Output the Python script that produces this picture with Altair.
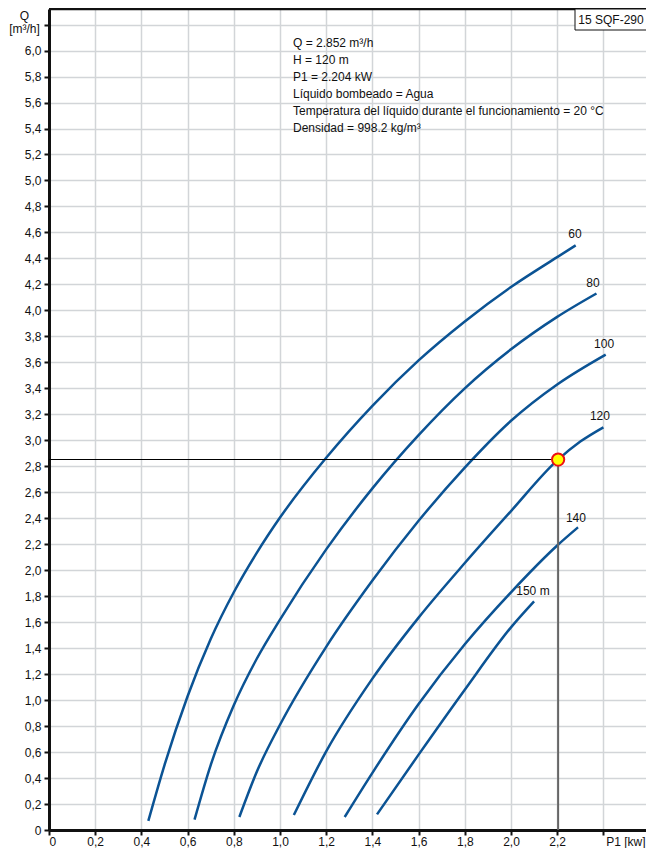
import altair as alt
import pandas as pd

# ---------------- data ----------------
x_ticks = [0.0, 0.2, 0.4, 0.6, 0.8, 1.0, 1.2, 1.4, 1.6, 1.8, 2.0, 2.2, 2.4, 2.6]
y_ticks = [0.0, 0.2, 0.4, 0.6, 0.8, 1.0, 1.2, 1.4, 1.6, 1.8, 2.0, 2.2, 2.4, 2.6,
           2.8, 3.0, 3.2, 3.4, 3.6, 3.8, 4.0, 4.2, 4.4, 4.6, 4.8, 5.0, 5.2, 5.4,
           5.6, 5.8, 6.0, 6.2]

p_60 = [0.43, 0.50, 0.60, 0.70, 0.80, 0.90, 1.00, 1.20, 1.40, 1.60, 1.80, 2.00, 2.20, 2.28]
q_60 = [0.07, 0.50, 1.03, 1.47, 1.83, 2.135, 2.405, 2.865, 3.265, 3.615, 3.915, 4.18, 4.41, 4.50]

p_80 = [0.63, 0.70, 0.80, 0.90, 1.00, 1.20, 1.40, 1.60, 1.80, 2.00, 2.20, 2.37]
q_80 = [0.08, 0.50, 0.96, 1.32, 1.62, 2.16, 2.63, 3.04, 3.40, 3.70, 3.95, 4.13]

p_100 = [0.824, 0.90, 1.00, 1.20, 1.40, 1.60, 1.80, 2.00, 2.20, 2.41]
q_100 = [0.10, 0.45, 0.81, 1.41, 1.92, 2.38, 2.79, 3.15, 3.43, 3.66]

p_120 = [1.06, 1.20, 1.40, 1.60, 1.80, 2.00, 2.20, 2.30, 2.40]
q_120 = [0.115, 0.605, 1.165, 1.635, 2.055, 2.455, 2.845, 2.99, 3.10]

p_140 = [1.28, 1.40, 1.60, 1.80, 2.00, 2.20, 2.29]
q_140 = [0.10, 0.44, 0.97, 1.43, 1.83, 2.19, 2.33]

p_150 = [1.42, 1.60, 1.80, 2.00, 2.10]
q_150 = [0.12, 0.58, 1.08, 1.56, 1.76]

label_text = ["60", "80", "100", "120", "140", "150 m"]
label_p = [2.277, 2.355, 2.403, 2.385, 2.281, 2.095]
label_q = [4.59, 4.21, 3.74, 3.19, 2.40, 1.84]

op_p = [2.204]
op_q = [2.852]

info_lines = [
    "Q = 2.852 m³/h",
    "H = 120 m",
    "P1 = 2.204 kW",
    "Líquido bombeado = Agua",
    "Temperatura del líquido durante el funcionamiento = 20 °C",
    "Densidad = 998.2 kg/m³",
]
model_name = ["15 SQF-290"]

# ---------------- build tables ----------------
curves = [("60", p_60, q_60), ("80", p_80, q_80), ("100", p_100, q_100),
          ("120", p_120, q_120), ("140", p_140, q_140), ("150", p_150, q_150)]
rows = []
for name, ps, qs in curves:
    for i, (p, q) in enumerate(zip(ps, qs)):
        rows.append({"curve": name, "p": p, "q": q, "i": i})
df_curves = pd.DataFrame(rows)
df_labels = pd.DataFrame({"t": label_text, "p": label_p, "q": label_q})
df_op = pd.DataFrame({"p": op_p, "q": op_q, "zero": [0.0]})
df_info = pd.DataFrame({"t": ["\n".join(info_lines)]})
df_model = pd.DataFrame({"t": model_name})

W = 597
H = 821
FONT = "Liberation Sans"
BLUE = "#0b5394"

xs = alt.Scale(domain=[0, W / 231.0], nice=False, zero=False)
ys = alt.Scale(domain=[0, 6.32], nice=False, zero=False)

common_axis = dict(
    grid=True, gridColor="#d2d5d8", gridWidth=1.5,
    domainColor="#111111", domainWidth=3,
    tickColor="#111111", tickWidth=2, tickSize=5,
    labelFont=FONT, labelFontSize=12, labelColor="#111111",
    labelOverlap=False,
    titleFont=FONT, titleFontSize=12, titleFontWeight="normal", titleColor="#111111",
)

x_axis = alt.Axis(
    values=x_ticks,
    labelExpr="datum.value == 0 ? '0' : (datum.value > 2.3 ? '' : replace(format(datum.value, '.1f'), '.', ','))",
    labelPadding=1,
    title="P1 [kw]", titleAlign="right", titleAnchor="end", titleX=W - 1, titleY=11,
    titleBaseline="middle",
    **common_axis,
)
y_axis = alt.Axis(
    values=y_ticks,
    labelExpr="datum.value == 0 ? '0' : (datum.value > 6.1 ? '' : replace(format(datum.value, '.1f'), '.', ','))",
    labelPadding=3,
    title=["Q", "[m³/h]"], titleAngle=0, titleAlign="center", titleBaseline="top",
    titleX=-25, titleY=1, titleLineHeight=13,
    **common_axis,
)

X = alt.X("p:Q", scale=xs, axis=x_axis)
Y = alt.Y("q:Q", scale=ys, axis=y_axis)

lines = alt.Chart(df_curves).mark_line(
    color=BLUE, strokeWidth=2.5, interpolate="monotone"
).encode(x=X, y=Y, detail="curve:N", order="i:Q")

labels = alt.Chart(df_labels).mark_text(
    font=FONT, fontSize=12, color="#111111", align="center", baseline="middle"
).encode(x=X, y=Y, text="t:N")

h_rule = alt.Chart(df_op).mark_rule(color="#000000", strokeWidth=1).encode(
    x=X, x2="zero:Q", y=Y)
v_rule = alt.Chart(df_op).mark_rule(color="#666666", strokeWidth=2).encode(
    x=X, y=Y, y2="zero:Q")
marker = alt.Chart(df_op).mark_circle(
    fill="#ffff00", stroke="#ee1111", strokeWidth=2, size=150, opacity=1
).encode(x=X, y=Y)

top_rule = alt.Chart(df_model).mark_rule(color="#111111", strokeWidth=2.5).encode(
    x=alt.value(0), x2=alt.value(W), y=alt.value(0))

model_box = alt.Chart(df_model).mark_rect(
    fill="white", stroke="#111111", strokeWidth=1
).encode(x=alt.value(526), x2=alt.value(W + 2), y=alt.value(0), y2=alt.value(21))
model_text = alt.Chart(df_model).mark_text(
    font=FONT, fontSize=12, color="#111111", align="center", baseline="middle"
).encode(x=alt.value(562), y=alt.value(11), text="t:N")

info = alt.Chart(df_info).mark_text(
    font=FONT, fontSize=12, color="#111111", align="left", baseline="top",
    lineBreak="\n", lineHeight=17
).encode(x=alt.value(244), y=alt.value(29), text="t:N")

chart = alt.layer(
    lines, h_rule, v_rule, marker, labels, top_rule, info, model_box, model_text
).properties(
    width=W, height=H,
    autosize=alt.AutoSizeParams(type="none"),
    padding={"left": 41, "top": 1, "right": 0, "bottom": 18},
    background="white",
).configure_view(strokeWidth=0)

chart.save("out.html", embed_options={"renderer": "svg", "actions": False})
